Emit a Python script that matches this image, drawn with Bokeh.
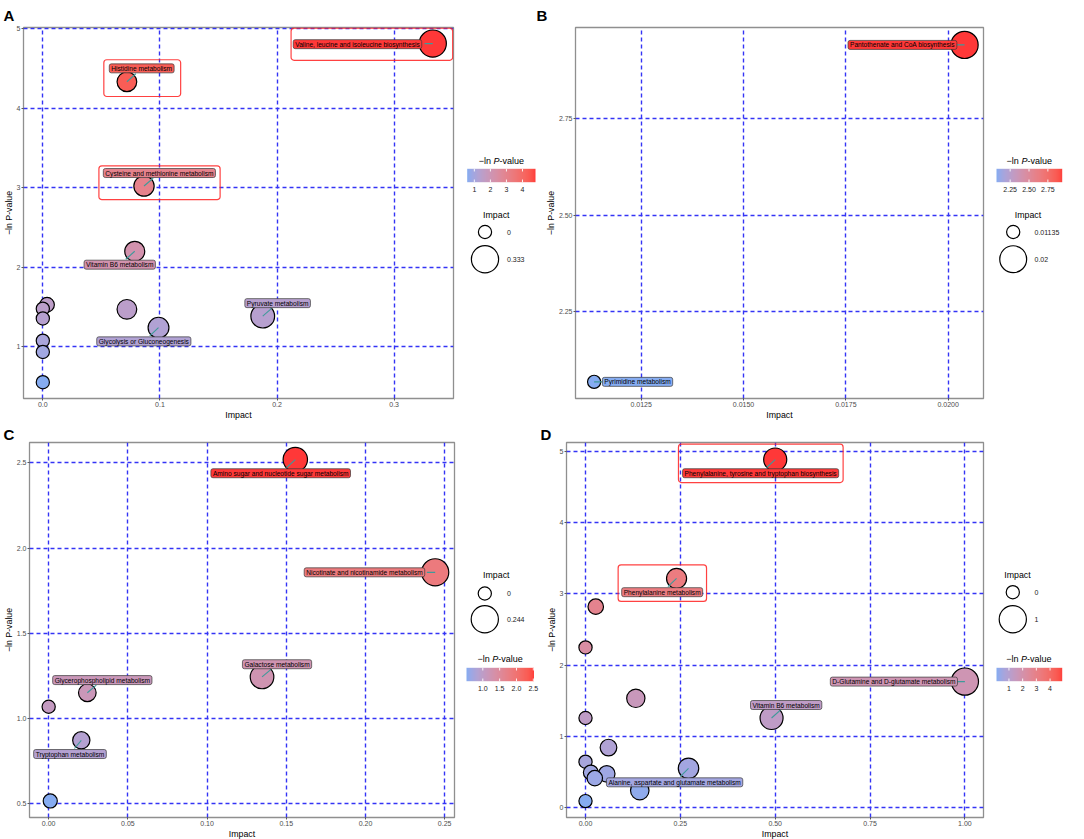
import numpy as np
from bokeh.plotting import figure
from bokeh.models import (Range1d, FixedTicker, PrintfTickFormatter, LinearColorMapper,
                          ColumnDataSource)
from bokeh.layouts import row, column
from bokeh.core.properties import value
from bokeh.embed import file_html
from bokeh.resources import INLINE

FONT = "Liberation Sans"

# ---------------- Panel A ----------------
a_names = ["Valine, leucine and isoleucine biosynthesis", "Histidine metabolism",
           "Cysteine and methionine metabolism", "Vitamin B6 metabolism",
           "Pyruvate metabolism", "Glycolysis or Gluconeogenesis",
           "", "", "", "", "", "", ""]
a_impact = [0.333, 0.0718, 0.0864, 0.0785, 0.1878, 0.0988, 0.0718, 0.0036, 0.0, 0.0, 0.0, 0.0, 0.0]
a_lnp = [4.81, 4.33, 3.02, 2.20, 1.385, 1.24, 1.47, 1.528, 1.479, 1.356, 1.077, 0.935, 0.555]
a_x_ticks = [0.0, 0.1, 0.2, 0.3]
a_y_ticks = [1, 2, 3, 4, 5]
a_cbar_ticks = [1, 2, 3, 4]
a_size_breaks = [0, 0.333]
a_size_labels = ["0", "0.333"]
a_hl_left = [0.212, 0.0521, 0.0479]
a_hl_right = [0.350, 0.1177, 0.1514]
a_hl_bottom = [4.60, 4.145, 2.849]
a_hl_top = [5.004, 4.607, 3.274]

# ---------------- Panel B ----------------
b_names = ["Pantothenate and CoA biosynthesis", "Pyrimidine metabolism"]
b_impact = [0.0204, 0.01135]
b_lnp = [2.94, 2.069]
b_x_ticks = [0.0125, 0.0150, 0.0175, 0.0200]
b_y_ticks = [2.25, 2.50, 2.75]
b_cbar_ticks = [2.25, 2.50, 2.75]
b_size_breaks = [0.01135, 0.02]
b_size_labels = ["0.01135", "0.02"]

# ---------------- Panel C ----------------
c_names = ["Amino sugar and nucleotide sugar metabolism", "Nicotinate and nicotinamide metabolism",
           "Galactose metabolism", "Glycerophospholipid metabolism", "Tryptophan metabolism", "", ""]
c_impact = [0.1557, 0.244, 0.1347, 0.0244, 0.0206, 0.0, 0.001]
c_lnp = [2.52, 1.858, 1.244, 1.151, 0.872, 1.069, 0.516]
c_x_ticks = [0.0, 0.05, 0.10, 0.15, 0.20, 0.25]
c_y_ticks = [0.5, 1.0, 1.5, 2.0, 2.5]
c_cbar_ticks = [1.0, 1.5, 2.0, 2.5]
c_size_breaks = [0, 0.244]
c_size_labels = ["0", "0.244"]

# ---------------- Panel D ----------------
d_names = ["Phenylalanine, tyrosine and tryptophan biosynthesis", "Phenylalanine metabolism",
           "D-Glutamine and D-glutamate metabolism", "Vitamin B6 metabolism",
           "Alanine, aspartate and glutamate metabolism",
           "", "", "", "", "", "", "", "", "", "", ""]
d_impact = [0.5, 0.240, 1.0, 0.4904, 0.2715, 0.027, 0.0, 0.1326, 0.0, 0.0606, 0.0, 0.014,
            0.056, 0.0245, 0.143, 0.0]
d_lnp = [4.885, 3.216, 1.769, 1.258, 0.552, 2.82, 2.249, 1.534, 1.258, 0.843, 0.645, 0.493,
         0.475, 0.414, 0.24, 0.092]
d_x_ticks = [0.0, 0.25, 0.50, 0.75, 1.00]
d_y_ticks = [0, 1, 2, 3, 4, 5]
d_cbar_ticks = [1, 2, 3, 4]
d_size_breaks = [0, 1]
d_size_labels = ["0", "1"]
d_hl_left = [0.245, 0.086]
d_hl_right = [0.679, 0.319]
d_hl_bottom = [4.562, 2.894]
d_hl_top = [5.101, 3.406]

# label placement (screen px offsets from the point: label centre, connector end)
a_lab = dict(dx=[-75.3, 14.8, 15.4, -15, 14.9, -14.7], dy=[0.6, -13.4, -13, 13.4, -13, 13.7],
             cx=[-8.3, 8.9, 9.2, -9, 8.9, -8.8], cy=[0, -8, -7.8, 8, -7.8, 8.2])
b_lab = dict(dx=[-62.1, 43.4], dy=[0, 0], cx=[-8.3, 8.4], cy=[0, 0])
c_lab = dict(dx=[-14.6, -70.7, 15, 15, -11.3], dy=[13.7, 0, -12.7, -12.7, 13.7],
             cx=[-8.8, -8.3, 9, 9, -6.8], cy=[8.2, 0, -7.6, -7.6, 8.2])
d_lab = dict(dx=[-14.6, -14.4, -71, 14.6, -13.9], dy=[13.7, 13.7, 0, -13, 14],
             cx=[-8.8, -8.6, -8, 8.8, -8.3], cy=[8.2, 8.2, 0, -7.8, 8.4])

# ---------------- colour palette (Lab interpolation) ----------------
_M = np.array([[0.4124564, 0.3575761, 0.1804375],
               [0.2126729, 0.7151522, 0.0721750],
               [0.0193339, 0.1191920, 0.9503041]])
_W = np.array([0.95047, 1.0, 1.08883])


def lab_from_hex(h):
    rgb = np.array([int(h[i:i + 2], 16) for i in (1, 3, 5)]) / 255.0
    lin = np.where(rgb <= 0.04045, rgb / 12.92, ((rgb + 0.055) / 1.055) ** 2.4)
    xyz = (_M @ lin) / _W
    f = np.where(xyz > 0.008856, np.cbrt(xyz), 7.787 * xyz + 16 / 116)
    return np.array([116 * f[1] - 16, 500 * (f[0] - f[1]), 200 * (f[1] - f[2])])


def hex_from_lab(lab, alpha):
    L, a, b = lab
    fy = (L + 16) / 116
    f = np.array([fy + a / 500, fy, fy - b / 200])
    xyz = np.where(f ** 3 > 0.008856, f ** 3, (f - 16 / 116) / 7.787) * _W
    lin = np.clip(np.linalg.inv(_M) @ xyz, 0, 1)
    s = np.where(lin <= 0.0031308, 12.92 * lin, 1.055 * lin ** (1 / 2.4) - 0.055)
    s = s * alpha + (1 - alpha)
    return "#%02x%02x%02x" % tuple(int(round(v * 255)) for v in np.clip(s, 0, 1))


LO, HI = lab_from_hex("#6495ED"), lab_from_hex("#FF0000")
PALETTE = [hex_from_lab(LO + t * (HI - LO), 0.78) for t in np.linspace(0, 1, 256)]

DMIN, DMAX = 13.2, 27.2


def sizes_for(vals, impact):
    lo, hi = min(impact), max(impact)
    return [DMIN + (DMAX - DMIN) * np.sqrt(max(v - lo, 0) / (hi - lo)) for v in vals]


def style_axes(p, xt, xfmt, yt, yfmt):
    p.xaxis.ticker = FixedTicker(ticks=xt)
    p.yaxis.ticker = FixedTicker(ticks=yt)
    p.xgrid.ticker = FixedTicker(ticks=xt)
    p.ygrid.ticker = FixedTicker(ticks=yt)
    p.xaxis.formatter = PrintfTickFormatter(format=xfmt)
    p.yaxis.formatter = PrintfTickFormatter(format=yfmt)
    p.xaxis.axis_label = "Impact"
    p.yaxis.axis_label = "\u2212ln P-value"
    for ax in p.axis:
        ax.axis_line_color = None
        ax.major_tick_line_color = "#333333"
        ax.major_tick_line_width = 0.8
        ax.major_tick_out = 2
        ax.major_tick_in = 0
        ax.minor_tick_line_color = None
        ax.major_label_text_font = FONT
        ax.major_label_text_font_size = "7px"
        ax.major_label_text_color = "#4D4D4D"
        ax.major_label_standoff = 1
        ax.axis_label_text_font = FONT
        ax.axis_label_text_font_size = "8.8px"
        ax.axis_label_text_font_style = "normal"
        ax.axis_label_text_color = "black"
        ax.axis_label_standoff = 0
    p.grid.grid_line_color = "#3434F5"
    p.grid.grid_line_width = 1.4
    p.grid.grid_line_dash = "4 3"
    p.outline_line_color = "#8F8F8F"
    p.outline_line_width = 1.3


def make_main(names, impact, lnp, lab, xr, yr, xt, xfmt, yt, yfmt, fw, fh, bl, br, bt, bb,
              mapper, letter, letter_offset, letter_standoff, hl=None):
    p = figure(width=bl + fw + br, height=bt + fh + bb, frame_width=fw, frame_height=fh,
               min_border_left=bl, min_border_right=br, min_border_top=bt, min_border_bottom=bb,
               x_range=Range1d(*xr), y_range=Range1d(*yr), toolbar_location=None,
               output_backend="svg", background_fill_color="white", border_fill_color="white")
    style_axes(p, xt, xfmt, yt, yfmt)
    kx = fw / (xr[1] - xr[0])
    ky = fh / (yr[1] - yr[0])

    src = ColumnDataSource(dict(x=impact, y=lnp, s=sizes_for(impact, impact), v=lnp))
    p.scatter("x", "y", size="s", source=src, fill_color={"field": "v", "transform": mapper},
              line_color="black", line_width=1.2)

    idx = [i for i, n in enumerate(names) if n]
    lx = [impact[i] for i in idx]
    ly = [lnp[i] for i in idx]
    seg = dict(x0=lx, y0=ly,
               x1=[x + c / kx for x, c in zip(lx, lab["cx"])],
               y1=[y - c / ky for y, c in zip(ly, lab["cy"])])
    p.segment("x0", "y0", "x1", "y1", source=ColumnDataSource(seg), line_color="#3E9A9A",
              line_width=1.1)

    tsrc = ColumnDataSource(dict(x=lx, y=ly, t=[names[i] for i in idx],
                                 dx=lab["dx"], dy=lab["dy"], v=ly))
    p.text("x", "y", text="t", x_offset="dx", y_offset="dy", source=tsrc,
           text_align="center", text_baseline="middle", text_font=value(FONT),
           text_font_size="6.6px", text_color="black",
           background_fill_color={"field": "v", "transform": mapper},
           border_line_color="#3A3A3A", border_line_width=0.7, padding=(2, 1), border_radius=2)

    if hl is not None:
        p.quad(left=hl[0], right=hl[1], bottom=hl[2], top=hl[3], fill_color=None,
               line_color="#FF2020", line_alpha=0.85, line_width=1.2, border_radius=3)

    # panel letter
    p.title.text = letter
    p.title.text_font = FONT
    p.title.text_font_size = "15px"
    p.title.text_font_style = "bold"
    p.title.text_color = "black"
    p.title.align = "left"
    p.title.offset = letter_offset
    p.title.standoff = letter_standoff
    return p


def make_legend(w, h, top, frame_h, mapper, lo, hi, cticks, cfmt, breaks, blabels, impact, L):
    # The frame of this figure is aligned with the frame of its row neighbours:
    # the y range is chosen so that one data unit is one pixel measured from the canvas top.
    bottom = h - top - frame_h
    p = figure(width=w, height=h, frame_width=w, frame_height=frame_h,
               x_range=Range1d(0, w), y_range=Range1d(bottom, h - top),
               x_axis_type=None, y_axis_type=None, min_border_left=0,
               min_border_right=0, min_border_top=top, min_border_bottom=bottom,
               toolbar_location=None, output_backend="svg",
               background_fill_color="white", border_fill_color="white")
    p.grid.visible = False
    p.outline_line_color = None

    def Y(v):
        return h - v

    # colour bar
    bx0, bx1, by0, by1 = L["bar"]
    p.image(image=[np.linspace(lo, hi, 256).reshape(1, -1)], x=bx0, y=Y(by1), dw=bx1 - bx0,
            dh=by1 - by0, color_mapper=mapper)
    tx = [bx0 + (t - lo) / (hi - lo) * (bx1 - bx0) for t in cticks]
    th = (by1 - by0) * 0.2
    n = len(tx)
    p.segment(x0=tx, y0=[Y(by0)] * n, x1=tx, y1=[Y(by0 + th)] * n, line_color="white",
              line_width=0.9)
    p.segment(x0=tx, y0=[Y(by1 - th)] * n, x1=tx, y1=[Y(by1)] * n, line_color="white",
              line_width=0.9)
    p.text(x=tx, y=[Y(L["tick_y"])] * n, text=[cfmt % t for t in cticks],
           text_font=value(FONT), text_font_size="7px", text_color="#1A1A1A",
           text_align="center", text_baseline="middle")
    # title: −ln P-value (italic P)
    cx, cy = L["ctitle"]
    x0 = cx - 22.6
    p.text(x=[x0, x0 + 20.8], y=[Y(cy)] * 2, text=["\u2212ln", "-value"], text_font=value(FONT),
           text_font_size="9px", text_color="black", text_align="left", text_baseline="middle")
    p.text(x=[x0 + 14.8], y=[Y(cy)], text=["P"], text_font=value(FONT), text_font_size="9px",
           text_font_style="italic", text_color="black", text_align="left",
           text_baseline="middle")

    # size legend
    ix, iy = L["ititle"]
    p.text(x=[ix], y=[Y(iy)], text=["Impact"], text_font=value(FONT), text_font_size="8.8px",
           text_color="black", text_align="center", text_baseline="middle")
    sz = sizes_for(breaks, impact)
    cyl = [Y(v) for v in L["circ_y"]]
    p.scatter(x=[L["circ_x"]] * 2, y=cyl, size=sz, fill_color=None, line_color="black",
              line_width=1.2)
    p.text(x=[L["lab_x"]] * 2, y=cyl, text=blabels, text_font=value(FONT),
           text_font_size="7px", text_color="#1A1A1A", text_align="left",
           text_baseline="middle")
    return p


def mapper_for(lnp):
    return LinearColorMapper(palette=PALETTE, low=min(lnp), high=max(lnp))


ma, mb, mc, md = mapper_for(a_lnp), mapper_for(b_lnp), mapper_for(c_lnp), mapper_for(d_lnp)

# row 1: top border 27, frame 371, bottom 22 ; row 2: top 20, frame 375, bottom 22
T1, F1, H1 = 27, 371, 420
T2, F2, H2 = 20, 375, 417

pA = make_main(a_names, a_impact, a_lnp, a_lab, (-0.0165, 0.3507), (0.35, 5.012),
               a_x_ticks, "%.1f", a_y_ticks, "%d", 430, F1, 23, 5, T1, 22, ma, "A", -20, 7,
               hl=(a_hl_left, a_hl_right, a_hl_bottom, a_hl_top))
pB = make_main(b_names, b_impact, b_lnp, b_lab, (0.010895, 0.020863), (2.026, 2.985),
               b_x_ticks, "%.4f", b_y_ticks, "%.2f", 408, F1, 39, 5, T1, 22, mb, "B", -39, 7)
pC = make_main(c_names, c_impact, c_lnp, c_lab, (-0.0121, 0.2562), (0.419, 2.62),
               c_x_ticks, "%.2f", c_y_ticks, "%.1f", 425, F2, 29, 4, T2, 22, mc, "C", -26, 0)
pD = make_main(d_names, d_impact, d_lnp, d_lab, (-0.0501, 1.049), (-0.138, 5.124),
               d_x_ticks, "%.2f", d_y_ticks, "%d", 417, F2, 26, 5, T2, 22, md, "D", -26, 0,
               hl=(d_hl_left, d_hl_right, d_hl_bottom, d_hl_top))

LA = dict(bar=(8.7, 77, 168.3, 181.7), tick_y=189, ctitle=(42.8, 160.5), ititle=(37.8, 214),
          circ_x=26.5, circ_y=[231.5, 258.7], lab_x=48.5)
LB = dict(bar=(8, 73.7, 168.3, 181.7), tick_y=189, ctitle=(40.7, 160.5), ititle=(39.5, 214),
          circ_x=24.7, circ_y=[231.5, 258.7], lab_x=46)
LC = dict(bar=(8, 75.5, 245.3, 258.7), tick_y=266.3, ctitle=(41.5, 236.3), ititle=(37.8, 152.7),
          circ_x=26.3, circ_y=[171, 196.7], lab_x=48.5)
LD = dict(bar=(8, 73.7, 245.3, 258.7), tick_y=266.3, ctitle=(40.3, 236.3), ititle=(29, 152.7),
          circ_x=24.3, circ_y=[169.7, 196.7], lab_x=46)

gA = make_legend(78, H1, T1, F1, ma, min(a_lnp), max(a_lnp), a_cbar_ticks, "%d", a_size_breaks,
                 a_size_labels, a_impact, LA)
gB = make_legend(90, H1, T1, F1, mb, min(b_lnp), max(b_lnp), b_cbar_ticks, "%.2f",
                 b_size_breaks, b_size_labels, b_impact, LB)
gC = make_legend(82, H2, T2, F2, mc, min(c_lnp), max(c_lnp), c_cbar_ticks, "%.1f",
                 c_size_breaks, c_size_labels, c_impact, LC)
gD = make_legend(90, H2, T2, F2, md, min(d_lnp), max(d_lnp), d_cbar_ticks, "%d", d_size_breaks,
                 d_size_labels, d_impact, LD)

layout = column(row(pA, gA, pB, gB), row(pC, gC, pD, gD))

open("out.html", "w").write(file_html(layout, INLINE))
